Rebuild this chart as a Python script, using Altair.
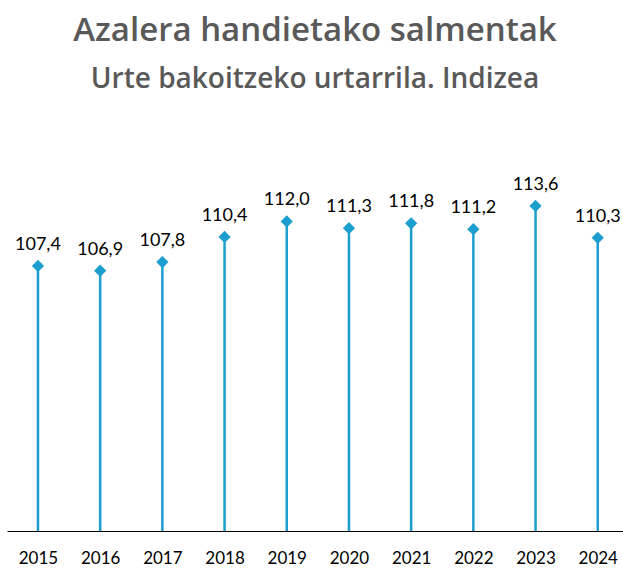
import altair as alt
import pandas as pd

years = [2015, 2016, 2017, 2018, 2019, 2020, 2021, 2022, 2023, 2024]
values = [107.4, 106.9, 107.8, 110.4, 112.0, 111.3, 111.8, 111.2, 113.6, 110.3]

df = pd.DataFrame({"year": years, "value": values})
COLOR = "#1c9ece"

x = alt.X("year:Q", scale=alt.Scale(domain=[2014.502, 2024.406], nice=False, zero=False),
          axis=alt.Axis(values=years, format="d", title=None, grid=False, ticks=False,
                        domainColor="#000000", domainWidth=1.2, labelFontSize=17,
                        labelColor="#000000", labelFont="Lato", labelPadding=19,
                        labelFlush=False))
y = alt.Y("value:Q", scale=alt.Scale(domain=[80, 120], nice=False, zero=False), axis=None)

base = alt.Chart(df).encode(x=x)

stems = base.mark_rule(color=COLOR, strokeWidth=2.5).encode(y=y, y2=alt.datum(80))
points = base.mark_point(shape="diamond", filled=True, size=150, color=COLOR, opacity=1).encode(y=y)
labels = base.transform_calculate(
    lab="replace(format(datum.value, '.1f'), '.', ',')"
).mark_text(dy=-21, fontSize=18, font="Lato", color="#000000").encode(y=y, text="lab:N")

chart = alt.layer(stems, points, labels).properties(
    width=616, height=387,
    autosize=alt.AutoSizeParams(type="none"),
    padding={"left": 7, "top": 144, "right": 0, "bottom": 39},
    title=alt.TitleParams(
        text="Azalera handietako salmentak",
        subtitle="Urte bakoitzeko urtarrila. Indizea",
        anchor="middle", font="Open Sans", fontSize=33, fontWeight=600, color="#595959",
        subtitleFont="Open Sans", subtitleFontSize=28, subtitleFontWeight=600,
        subtitleColor="#595959", subtitlePadding=18, offset=50,
    ),
).configure_view(stroke=None)

chart.save("out.html", embed_options={"renderer": "svg", "actions": False})
